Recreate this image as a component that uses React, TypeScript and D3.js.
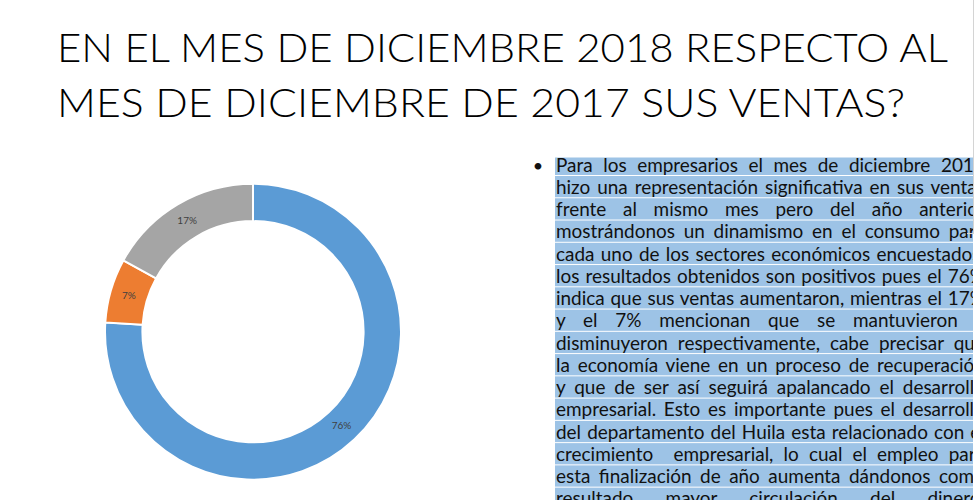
import React, { useEffect, useRef } from 'react';
import * as d3 from 'd3';

const titleLines = [
  'EN EL MES DE DICIEMBRE 2018 RESPECTO AL',
  'MES DE DICIEMBRE DE 2017 SUS VENTAS?',
];

const categories = ['Aumentaron', 'Disminuyeron', 'Se mantuvieron'];
const shares = [76, 7, 17];
const sliceColors = ['#5B9BD5', '#ED7D31', '#A5A5A5'];

const paragraphLines = [
  'Para los empresarios el mes de diciembre 2018',
  'hizo una representación significativa en sus ventas',
  'frente al mismo mes pero del año anterior',
  'mostrándonos un dinamismo en el consumo para',
  'cada uno de los sectores económicos encuestados,',
  'los resultados obtenidos son positivos pues el 76%',
  'indica que sus ventas aumentaron, mientras el 17%',
  'y el 7% mencionan que se mantuvieron y',
  'disminuyeron respectivamente, cabe precisar que',
  'la economía viene en un proceso de recuperación',
  'y que de ser así seguirá apalancado el desarrollo',
  'empresarial. Esto es importante pues el desarrollo',
  'del departamento del Huila esta relacionado con el',
  'crecimiento  empresarial, lo cual el empleo para',
  'esta finalización de año aumenta dándonos como',
  'resultado mayor circulación del dinero.',
];

export default function App() {
  const ref = useRef<SVGSVGElement>(null);

  useEffect(() => {
    const svg = d3.select(ref.current);
    svg.selectAll('*').remove();

    // Title
    const titleWidths = [891, 848];
    svg
      .append('g')
      .selectAll('text')
      .data(titleLines)
      .join('text')
      .attr('x', 57)
      .attr('y', (_, i) => 62 + 54.5 * i)
      .attr('font-family', 'Lato, "Open Sans", sans-serif')
      .attr('font-weight', 300)
      .attr('font-size', 40)
      .attr('fill', '#000')
      .attr('textLength', (_, i) => titleWidths[i])
      .attr('lengthAdjust', 'spacingAndGlyphs')
      .text((d) => d);

    // Donut
    const pie = d3.pie<number>().sort(null).value((d) => d);
    const arcs = pie(shares);
    const arc = d3
      .arc<d3.PieArcDatum<number>>()
      .innerRadius(110.6)
      .outerRadius(148);
    const labelArc = d3
      .arc<d3.PieArcDatum<number>>()
      .innerRadius(111.6)
      .outerRadius(147);
    const g = svg.append('g').attr('transform', 'translate(253,331.7)');
    g.selectAll('path')
      .data(arcs)
      .join('path')
      .attr('d', arc)
      .attr('fill', (_, i) => sliceColors[i])
      .attr('stroke', '#fff')
      .attr('stroke-width', 2)
      .append('title')
      .text((_, i) => categories[i]);
    g.selectAll('text.lbl')
      .data(arcs)
      .join('text')
      .attr('class', 'lbl')
      .attr('transform', (d) => {
        const [cx, cy] = labelArc.centroid(d);
        return `translate(${cx},${cy})`;
      })
      .attr('text-anchor', 'middle')
      .attr('dy', '0.35em')
      .attr('font-family', 'Lato, sans-serif')
      .attr('font-size', 10)
      .attr('fill', '#404040')
      .text((d) => `${d.data}%`);

    // Paragraph
    const left = 556;
    const right = 985;
    const W = right - left;
    const base0 = 171.5;
    const pitch = 22.26;
    const base = (i: number) => base0 + pitch * i;

    const defs = svg.append('defs');
    defs
      .append('clipPath')
      .attr('id', 'txtclip')
      .append('rect')
      .attr('x', 0)
      .attr('y', 0)
      .attr('width', 973)
      .attr('height', 500);

    const pg = svg.append('g').attr('clip-path', 'url(#txtclip)');
    pg.selectAll('rect')
      .data(paragraphLines)
      .join('rect')
      .attr('x', 555)
      .attr('y', (_, i) => (i === 0 ? base0 - 14 : base(i - 1) + 4.5))
      .attr('width', 430)
      .attr('height', (_, i) =>
        i === 0 ? 17.5 : base(i) + 3.5 - (base(i - 1) + 4.5)
      )
      .attr('fill', '#9DC3E6');

    const texts = pg
      .selectAll('text')
      .data(paragraphLines)
      .join('text')
      .attr('x', 0)
      .attr('y', 0)
      .attr('font-family', 'Lato, sans-serif')
      .attr('font-size', 19)
      .attr('fill', '#111')
      .style('white-space', 'pre')
      .text((d) => d);

    svg
      .append('text')
      .attr('x', 538)
      .attr('y', base0)
      .attr('text-anchor', 'middle')
      .attr('font-family', 'Lato, sans-serif')
      .attr('font-size', 18)
      .attr('fill', '#111')
      .text('•');

    const nodes = texts.nodes() as SVGTextElement[];
    const layout = () => {
      nodes.forEach((n, i) => {
        n.setAttribute('transform', `translate(${left},${base(i)})`);
        n.style.wordSpacing = '0px';
      });
      const N = nodes.map((n) => n.getComputedTextLength());
      const s = (0.985 * W) / (d3.max(N) || W);
      nodes.forEach((n, i) => {
        const spaces = (paragraphLines[i].match(/ /g) || []).length || 1;
        const ws = (W / s - N[i]) / spaces;
        n.setAttribute(
          'transform',
          `translate(${left},${base(i)}) scale(${s},1)`
        );
        n.style.wordSpacing = `${ws}px`;
      });
    };
    layout();
    if ((document as any).fonts && (document as any).fonts.ready) {
      (document as any).fonts.ready.then(layout);
    }

    // Right edge frame
    svg
      .append('line')
      .attr('x1', 973.5)
      .attr('x2', 973.5)
      .attr('y1', 0)
      .attr('y2', 233)
      .attr('stroke', '#d4d4d4')
      .attr('stroke-width', 1);
    svg
      .append('line')
      .attr('x1', 967)
      .attr('x2', 974)
      .attr('y1', 233.5)
      .attr('y2', 233.5)
      .attr('stroke', '#d4d4d4')
      .attr('stroke-width', 1);
  }, []);

  return (
    <svg
      ref={ref}
      width={977}
      height={500}
      style={{ position: 'absolute', left: 0, top: 0, background: '#fff' }}
    />
  );
}
